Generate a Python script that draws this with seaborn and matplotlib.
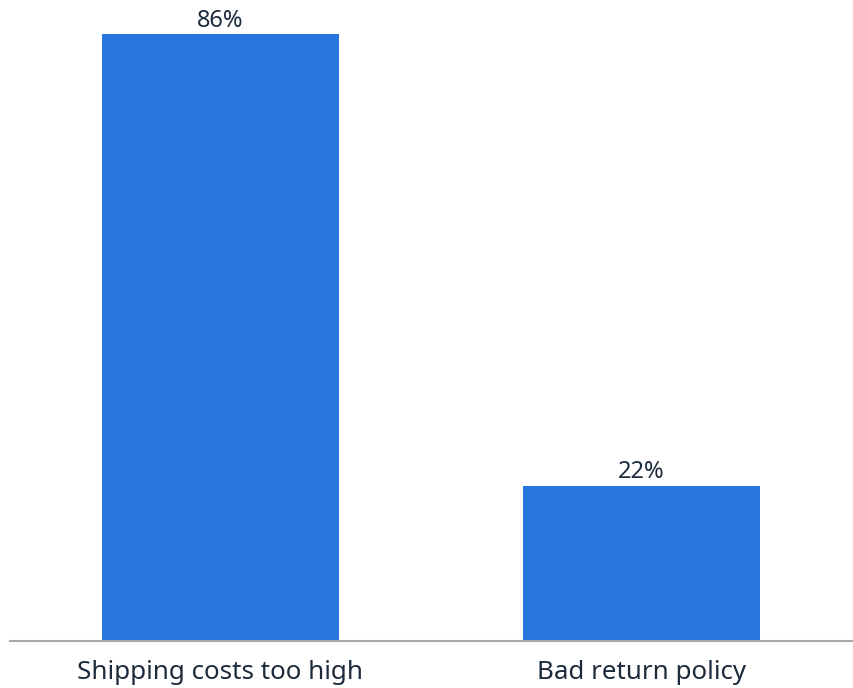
import pandas as pd
import seaborn as sns
import matplotlib.pyplot as plt

# Raisons d'abandon de panier (en %)
categories = ["Shipping costs too high", "Bad return policy"]
values = [86, 22]

df = pd.DataFrame({"raison": categories, "part": values})

sns.set_theme(style="white")
plt.rcParams["font.family"] = ["Noto Sans", "DejaVu Sans"]

text_color = "#1c2b3c"
bar_color = "#2876dd"

fig = plt.figure(figsize=(8.54, 6.88), dpi=100)
ax = fig.add_axes([10 / 854, 1 - 641 / 688, 842 / 854, 635 / 688])

sns.barplot(data=df, x="raison", y="part", color=bar_color, width=0.564,
            saturation=1, linewidth=0, ax=ax)

for p, v in zip(ax.patches, values):
    ax.text(p.get_x() + p.get_width() / 2, v + 0.2, f"{v}%",
            ha="center", va="bottom", fontsize=17, color=text_color)

ax.set_xlim(-0.5, 1.5)
ax.set_ylim(0, 90)
ax.set_xlabel("")
ax.set_ylabel("")
ax.set_yticks([])
ax.tick_params(axis="x", length=0, pad=14, labelsize=18.7, labelcolor=text_color)
for s in ["top", "right", "left"]:
    ax.spines[s].set_visible(False)
ax.spines["bottom"].set_color("#aaaaaa")
ax.spines["bottom"].set_linewidth(1.5)

fig.savefig("out.png", dpi=100)
